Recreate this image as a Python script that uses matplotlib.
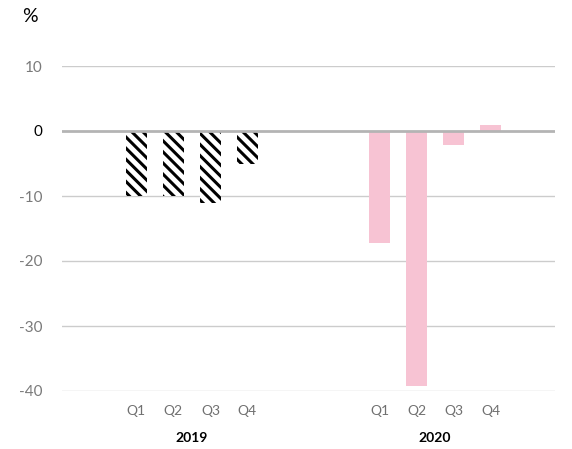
import numpy as np
import matplotlib.pyplot as plt

plt.rcParams['font.family'] = ['Lato', 'DejaVu Sans']
plt.rcParams['hatch.linewidth'] = 2.2

quarters = ["Q1", "Q2", "Q3", "Q4"]
years = ["2019", "2020"]
vals_2019 = [-10, -10, -11, -5]
vals_2020 = [-17.2, -39.3, -2.1, 0.9]
yticks = [10, 0, -10, -20, -30, -40]

fig = plt.figure(figsize=(5.72, 4.49), dpi=100)
ax = fig.add_axes([62 / 572, 1 - 391 / 449, (555 - 62) / 572, (391 - 66) / 449])

x1 = np.arange(4)
x2 = np.arange(4) + 6.57
w = 0.57

ax.bar(x1, vals_2019, width=w, color="white", edgecolor="black",
       hatch="\\\\\\", linewidth=0, zorder=3)
ax.bar(x2, vals_2020, width=w, color="#f7c3d3", linewidth=0, zorder=3)

ax.set_xlim(-2.01, 11.31)
ax.set_ylim(-40, 10)

for y in yticks:
    if y == 0:
        continue
    ax.axhline(y, color="#cccccc", lw=1, zorder=1)
ax.axhline(0, color="#b4b4b4", lw=2, zorder=4)

for s in ax.spines.values():
    s.set_visible(False)

ax.set_yticks(yticks)
ax.set_yticklabels([str(t) for t in yticks])
ax.tick_params(axis="y", length=0, pad=14, labelsize=11, labelcolor="#7a7a7a")
for lab, t in zip(ax.get_yticklabels(), yticks):
    if t == 0:
        lab.set_color("black")

ax.set_xticks(list(x1) + list(x2))
ax.set_xticklabels(quarters + quarters)
ax.tick_params(axis="x", length=0, pad=10, labelsize=10, labelcolor="#707070")

for xs, yr in zip([x1, x2], years):
    ax.text(xs.mean(), -0.145, yr, transform=ax.get_xaxis_transform(),
            ha="center", va="center", fontsize=10, fontweight="bold")

fig.text(30 / 572, 1 - 16 / 449, "%", ha="center", va="center", fontsize=14)

fig.savefig("out.png", dpi=100)
